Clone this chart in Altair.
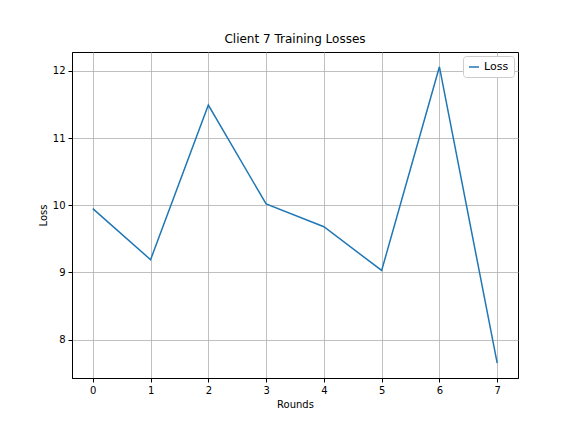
import altair as alt
import pandas as pd

rounds = [0, 1, 2, 3, 4, 5, 6, 7]
losses = [9.95, 9.19, 11.49, 10.02, 9.68, 9.03, 12.06, 7.65]
series = ["Loss"] * len(rounds)

df = pd.DataFrame({"Rounds": rounds, "Loss": losses, "series": series})

chart = alt.Chart(df).mark_line(strokeWidth=1.5, clip=True).encode(
    x=alt.X("Rounds:Q", scale=alt.Scale(domain=[-0.36, 7.36], nice=False, zero=False),
            axis=alt.Axis(values=rounds, title="Rounds", format="d")),
    y=alt.Y("Loss:Q", scale=alt.Scale(domain=[7.43, 12.28], nice=False, zero=False),
            axis=alt.Axis(values=[8, 9, 10, 11, 12], title="Loss")),
    color=alt.Color("series:N", scale=alt.Scale(range=["#1f77b4"]),
                    legend=alt.Legend(title=None, orient="top-right", symbolType="stroke",
                                      symbolStrokeWidth=1.5, strokeColor="#cccccc",
                                      fillColor="white", padding=5, cornerRadius=3,
                                      labelFontSize=11, offset=4)),
).properties(
    width=446, height=326,
    title=alt.Title("Client 7 Training Losses", fontSize=12, fontWeight="normal", offset=6),
    autosize=alt.AutoSizeParams(type="none"),
    padding={"left": 64, "top": 44, "right": 50, "bottom": 40},
).configure(font="DejaVu Sans").configure_axis(
    grid=True, gridColor="#b0b0b0", gridWidth=0.8, domainColor="black", tickColor="black",
    labelColor="black", titleColor="black", labelFontSize=10, titleFontSize=10,
    titleFontWeight="normal", tickSize=4, labelPadding=3,
).configure_view(stroke="black", strokeWidth=1)

chart.save("out.html", embed_options={"renderer": "svg", "actions": False})
